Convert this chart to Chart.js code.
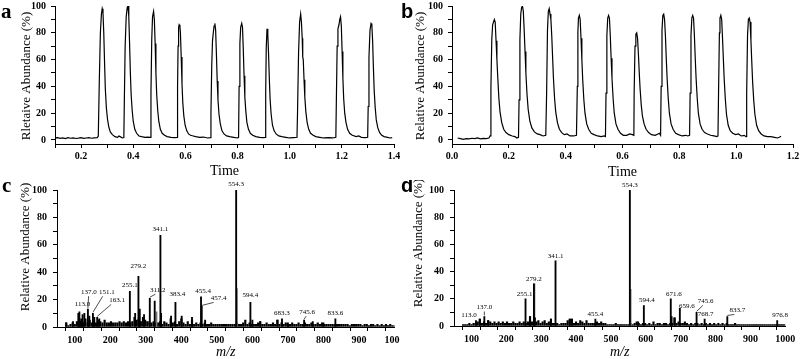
<!DOCTYPE html>
<html>
<head>
<meta charset="utf-8">
<script src="https://cdn.jsdelivr.net/npm/chart.js@4.4.1/dist/chart.umd.min.js"></script>
<style>
  html, body { margin: 0; padding: 0; background: #fff; }
  #fig { position: relative; width: 800px; height: 359px; overflow: hidden; background: #fff; }
  .panel { position: absolute; }
</style>
</head>
<body>
<div id="fig">
  <div class="panel" style="left:0;top:0;width:400px;height:180px"><canvas id="chart-a"></canvas></div>
  <div class="panel" style="left:400px;top:0;width:400px;height:180px"><canvas id="chart-b"></canvas></div>
  <div class="panel" style="left:0;top:180px;width:400px;height:179px"><canvas id="chart-c"></canvas></div>
  <div class="panel" style="left:400px;top:180px;width:400px;height:179px"><canvas id="chart-d"></canvas></div>
</div>
<script>
'use strict'

// panel a: chromatogram (time, relative abundance)
const aTime = [
  0.100, 0.110, 0.120, 0.130, 0.140, 0.150, 0.160, 0.170, 0.180, 0.190, 0.200, 0.210, 0.220, 0.230, 0.240, 0.250, 0.262, 0.266,
  0.270, 0.274, 0.278, 0.281, 0.284, 0.287, 0.290, 0.293, 0.297, 0.301, 0.306, 0.312, 0.320, 0.330, 0.340, 0.345, 0.350, 0.358, 0.364,
  0.366, 0.369, 0.373, 0.377, 0.380, 0.383, 0.386, 0.389, 0.392, 0.396, 0.400, 0.406, 0.413, 0.422, 0.432, 0.445, 0.455, 0.465,
  0.468, 0.471, 0.474, 0.478, 0.481, 0.484, 0.487, 0.490, 0.494, 0.498, 0.504, 0.511, 0.520, 0.530, 0.545, 0.558, 0.568,
  0.570, 0.572, 0.574, 0.576, 0.579, 0.581, 0.584, 0.587, 0.590, 0.594, 0.599, 0.605, 0.612, 0.620, 0.630, 0.640, 0.655, 0.670, 0.685, 0.696,
  0.698, 0.701, 0.704, 0.707, 0.710, 0.713, 0.716, 0.719, 0.722, 0.725, 0.729, 0.734, 0.740, 0.748, 0.758, 0.770, 0.785, 0.800, 0.804,
  0.806, 0.809, 0.812, 0.816, 0.819, 0.822, 0.825, 0.828, 0.832, 0.836, 0.842, 0.849, 0.858, 0.870, 0.885, 0.898, 0.906,
  0.908, 0.910, 0.913, 0.916, 0.919, 0.922, 0.925, 0.929, 0.934, 0.940, 0.948, 0.958, 0.970, 0.985, 1.000, 1.015, 1.028,
  1.030, 1.034, 1.038, 1.042, 1.045, 1.048, 1.050, 1.052, 1.055, 1.058, 1.062, 1.067, 1.073, 1.080, 1.090, 1.100, 1.115, 1.130, 1.150, 1.165, 1.177,
  1.179, 1.182, 1.185, 1.189, 1.192, 1.195, 1.198, 1.201, 1.204, 1.207, 1.211, 1.216, 1.222, 1.230, 1.240, 1.255, 1.265, 1.275, 1.290, 1.299,
  1.301, 1.304, 1.308, 1.312, 1.315, 1.318, 1.321, 1.324, 1.328, 1.332, 1.338, 1.345, 1.353, 1.362, 1.375, 1.385, 1.393
]
const aAbund = [
  1.5, 1.8, 1.2, 1.6, 1.0, 1.7, 1.3, 1.5, 1.1, 1.4, 1.8, 1.2, 1.5, 1.7, 1.3, 1.6, 1.8, 3,
  45, 80, 94, 98, 95, 80, 58, 38, 24, 16, 10, 6, 4, 2.5, 2, 3, 2.5, 1.5, 1.8,
  30, 70, 92, 99, 100, 92, 72, 50, 34, 22, 14, 8, 5, 3, 2.5, 2, 2.2, 2,
  35, 75, 92, 96, 90, 72, 50, 34, 22, 14, 8, 5, 3.5, 2.5, 2, 1.8, 2,
  40, 70, 84, 86, 85, 80, 62, 42, 28, 18, 11, 7, 4.5, 3.5, 3, 2.5, 2, 2.2, 1.5, 1.8,
  20, 55, 74, 80, 85, 87, 82, 64, 44, 30, 19, 12, 7, 4.5, 3, 2.5, 2, 1.5, 2,
  40, 72, 84, 87, 84, 68, 48, 32, 21, 13, 8, 5, 3.5, 2.5, 2, 1.8, 2,
  35, 68, 83, 79, 64, 45, 30, 19, 11, 7, 4.5, 3, 2.5, 2, 1.5, 1.8, 2,
  20, 65, 88, 94, 88, 76, 62, 60, 45, 32, 21, 13, 8, 5, 3.5, 2.5, 2, 1.5, 1.8, 1.5, 2,
  30, 70, 83, 86, 90, 92, 85, 66, 46, 31, 20, 13, 8, 5, 3.5, 2.5, 3, 2, 1.8, 2,
  25, 62, 82, 87, 86, 74, 54, 37, 24, 15, 9, 5.5, 3.5, 2.5, 2, 1.5, 1.8
]

// panel b: chromatogram
const bTime = [
  0.020, 0.030, 0.040, 0.050, 0.060, 0.070, 0.080, 0.090, 0.100, 0.110, 0.120, 0.130, 0.134,
  0.137, 0.140, 0.143, 0.146, 0.149, 0.152, 0.155, 0.158, 0.161, 0.165, 0.169, 0.175, 0.182, 0.190, 0.200, 0.212, 0.222, 0.228, 0.234,
  0.236, 0.239, 0.242, 0.245, 0.248, 0.251, 0.254, 0.257, 0.260, 0.264, 0.268, 0.274, 0.281, 0.290, 0.300, 0.310, 0.320, 0.330,
  0.333, 0.336, 0.339, 0.342, 0.345, 0.348, 0.351, 0.354, 0.357, 0.361, 0.365, 0.371, 0.378, 0.386, 0.395, 0.405, 0.415, 0.428, 0.438,
  0.441, 0.443, 0.445, 0.448, 0.451, 0.454, 0.457, 0.460, 0.464, 0.468, 0.474, 0.481, 0.490, 0.500, 0.512, 0.525, 0.535, 0.540,
  0.542, 0.545, 0.548, 0.551, 0.554, 0.557, 0.560, 0.563, 0.567, 0.571, 0.577, 0.584, 0.593, 0.603, 0.615, 0.625, 0.635, 0.640,
  0.641, 0.644, 0.647, 0.650, 0.653, 0.656, 0.659, 0.662, 0.666, 0.670, 0.676, 0.683, 0.692, 0.702, 0.715, 0.725, 0.730, 0.734,
  0.736, 0.739, 0.742, 0.745, 0.748, 0.751, 0.754, 0.757, 0.761, 0.765, 0.771, 0.778, 0.787, 0.797, 0.810, 0.822, 0.830, 0.836,
  0.838, 0.841, 0.844, 0.847, 0.850, 0.853, 0.856, 0.859, 0.863, 0.867, 0.873, 0.880, 0.889, 0.899, 0.910, 0.922, 0.932, 0.936,
  0.938, 0.941, 0.943, 0.946, 0.949, 0.952, 0.955, 0.958, 0.962, 0.966, 0.972, 0.979, 0.988, 0.998, 1.008, 1.018, 1.028, 1.035,
  1.037, 1.040, 1.043, 1.046, 1.049, 1.052, 1.055, 1.058, 1.062, 1.066, 1.072, 1.079, 1.088, 1.098, 1.110, 1.122, 1.135, 1.145, 1.152, 1.158
]
const bAbund = [
  1.5, 1.0, 0.5, 1.0, 0.8, 1.3, 1.0, 1.5, 0.8, 1.2, 1.0, 1.5, 3,
  40, 75, 86, 88, 90, 88, 74, 60, 47, 31, 21, 13, 8, 5.5, 4, 3, 2.5, 1.5, 2,
  30, 75, 94, 99, 100, 96, 82, 66, 50, 34, 23, 14, 9, 6, 4.5, 4, 3, 3.5,
  35, 82, 96, 98, 94, 90, 78, 62, 46, 31, 21, 13, 8, 5.5, 4, 4.5, 3, 3, 3.5,
  40, 80, 91, 93, 90, 76, 60, 45, 30, 20, 12, 8, 5, 4, 3, 2.5, 3, 2.5,
  35, 78, 91, 93, 91, 78, 61, 46, 31, 20, 12, 8, 5, 3.5, 3.5, 4.5, 4, 3.5,
  35, 70, 79, 80, 76, 64, 50, 38, 26, 18, 12, 8, 5.5, 4, 3.5, 4.5, 5, 3.5,
  40, 82, 93, 94, 90, 78, 61, 46, 31, 20, 12, 8, 5, 4, 3, 3.5, 3, 3.5,
  35, 78, 91, 93, 91, 78, 61, 46, 31, 20, 12, 8, 5.5, 4.5, 3.5, 3, 2.5, 3,
  35, 80, 91, 93, 90, 76, 60, 45, 30, 19, 11, 7, 5, 4, 4.5, 3, 3.5, 2.5,
  35, 78, 90, 91, 88, 74, 58, 43, 29, 19, 11, 7, 4.5, 3, 2.5, 2.5, 2, 1.5, 2, 2.8
]

// noise grid shared by both spectra (m/z)
const noiseMz = [
  76, 82, 88, 94, 100, 106, 112, 118, 124, 130, 136, 142, 148, 154, 160, 166, 172, 178, 184, 190,
  196, 202, 208, 214, 220, 226, 232, 238, 244, 250, 256, 262, 268, 274, 280, 286, 292, 298, 304, 310,
  316, 322, 328, 334, 340, 346, 352, 358, 364, 370, 376, 382, 388, 394, 400, 406, 412, 418, 424, 430,
  436, 442, 448, 454, 460, 466, 472, 478, 484, 490, 496, 502, 508, 514, 520, 526, 532, 538, 544, 550,
  556, 562, 568, 574, 580, 586, 592, 598, 604, 610, 616, 622, 628, 634, 640, 646, 652, 658, 664, 670,
  676, 682, 688, 694, 700, 706, 712, 718, 724, 730, 736, 742, 748, 754, 760, 766, 772, 778, 784, 790,
  796, 802, 808, 814, 820, 826, 832, 838, 844, 850, 856, 862, 868, 874, 880, 886, 892, 898, 904, 910,
  916, 922, 928, 934, 940, 946, 952, 958, 964, 970, 976, 982, 988, 994, 1000
]

// panel c: mass spectrum
const cNoise = [
  3, 1, 2, 3, 2, 4, 2, 4, 3, 6, 3, 5, 3, 4, 3, 5, 4, 3, 5, 3,
  3, 4, 3, 3, 3, 4, 3, 4, 3, 4, 3, 4, 7, 5, 6, 4, 7, 5, 4, 4,
  3, 4, 3, 3, 4, 2, 4, 3, 2, 6, 3, 4, 2, 4, 6, 3, 2, 4, 2, 5,
  2, 3, 2, 3, 2, 3, 2, 2, 3, 2, 2, 2, 2, 2, 2, 2, 2, 2, 2, 2,
  3, 2, 2, 3, 5, 2, 3, 2, 2, 2, 3, 4, 2, 2, 3, 2, 2, 3, 2, 5,
  2, 3, 2, 3, 2, 2, 3, 2, 2, 3, 2, 2, 3, 2, 2, 3, 2, 2, 3, 2,
  3, 2, 2, 2, 2, 2, 2, 2, 2, 2, 2, 2, 2, 1, 2, 2, 2, 2, 2, 1,
  2, 2, 1, 2, 2, 1, 2, 1, 2, 1, 2, 1, 2, 1, 1
]
const cPeakMz = [76, 95, 110, 113.0, 118, 122, 127, 137.0, 141, 151.1, 155, 163.1, 169, 255.1, 270, 279.2, 283, 295, 311.2, 325,
  341.1, 343, 371, 383.4, 401, 430, 455.4, 457.4, 467, 554.3, 594.4, 600, 622, 671, 683.3, 700, 745.6, 770, 800, 833.6]
const cPeakInt = [3, 4, 10, 11, 6, 9, 10, 13, 8, 10, 7, 7, 6, 26, 10, 37, 13, 9, 21, 19,
  67, 10, 8, 18, 8, 7, 22, 15, 5, 100, 18, 5, 4, 5, 6, 3, 5, 4, 3, 6]
const cPeakLabel = ['', '', '', '113.0', '', '', '', '137.0', '', '151.1', '', '163.1', '', '255.1', '', '279.2', '', '', '311.2', '',
  '341.1', '', '', '383.4', '', '', '455.4', '457.4', '', '554.3', '594.4', '', '', '', '683.3', '', '745.6', '', '', '833.6']
const cShoulderMz = [330, 556.3]
const cShoulderInt = [11, 28]

// panel d: mass spectrum
const dNoise = [
  1, 1, 1, 2, 1, 2, 2, 3, 5, 2, 3, 2, 4, 3, 2, 3, 2, 3, 2, 3,
  2, 3, 2, 2, 3, 2, 2, 3, 2, 3, 2, 3, 7, 3, 6, 3, 4, 2, 3, 4,
  2, 3, 5, 2, 2, 2, 1, 2, 2, 2, 4, 5, 5, 2, 3, 2, 4, 3, 2, 4,
  2, 2, 2, 2, 3, 2, 3, 2, 2, 1, 1, 1, 1, 2, 1, 1, 1, 1, 1, 1,
  2, 1, 2, 3, 2, 1, 2, 2, 1, 2, 1, 3, 1, 2, 2, 1, 2, 2, 1, 2,
  2, 6, 2, 3, 2, 2, 3, 2, 1, 2, 1, 2, 2, 1, 2, 1, 2, 1, 2, 1,
  2, 1, 2, 1, 2, 1, 2, 1, 1, 1, 2, 1, 1, 1, 1, 1, 1, 1, 1, 1,
  1, 1, 1, 1, 1, 1, 1, 1, 1, 1, 1, 1, 1, 1, 1
]
const dPeakMz = [113.0, 124, 137.0, 148, 255.1, 268, 279.2, 282, 328, 341.1, 382, 388, 455.4, 554.3, 578, 594.4,
  671.6, 674, 683, 697.6, 745.6, 768.7, 833.7, 976.8]
const dPeakInt = [4, 5, 7, 4, 20, 7, 31, 6, 5, 48, 5, 5, 5, 100, 3, 15,
  20, 7, 6, 13, 10, 5, 7, 4]
const dPeakLabel = ['113.0', '', '137.0', '', '255.1', '', '279.2', '', '', '341.1', '', '', '455.4', '554.3', '', '594.4',
  '671.6', '', '', '659.6', '745.6', '768.7', '833.7', '976.8']
const dShoulderMz = [280.5, 556.3]
const dShoulderInt = [31, 27]

// label placement: [dx, dy, leader line]
const cPlace = {
  '113.0': [3, -8, 0], '137.0': [1, -17, 1], '151.1': [14, -21, 1], '163.1': [20, -17, 1],
  '255.1': [0, -6, 0], '279.2': [0, -10, 0], '311.2': [8, -8, 1], '341.1': [0, -6, 0],
  '383.4': [2, -8, 0], '455.4': [2, -6, 0], '457.4': [17, -8, 1], '554.3': [0, -6, 0],
  '594.4': [0, -7, 0], '683.3': [0, -6, 0], '745.6': [3, -8, 1], '833.6': [0, -6, 0]
}
const dPlace = {
  '113.0': [-7, -5, 0], '137.0': [0, -9, 1], '255.1': [-1, -5, 0], '279.2': [0, -5, 0],
  '341.1': [0, -5, 0], '455.4': [0, -5, 0], '554.3': [0, -5, 0], '594.4': [3, -5, 0],
  '671.6': [3, -5, 0], '659.6': [7, -2, 0], '745.6': [9, -11, 1], '768.7': [1, -5, 0],
  '833.7': [10, -6, 1], '976.8': [3, -5, 0]
}

const SERIF = 'Liberation Serif'
const pairs = (xs, ys) => xs.map((v, i) => ({ x: v, y: ys[i] }))

// panel letter + rotated y title
const decor = (letter, letterFont, lx, ly, title, tx, ty) => ({
  id: 'decor',
  afterDraw (chart) {
    const ctx = chart.ctx
    ctx.save()
    ctx.fillStyle = '#000'
    ctx.font = letterFont
    ctx.textAlign = 'left'
    ctx.textBaseline = 'alphabetic'
    ctx.fillText(letter, lx, ly)
    ctx.translate(tx, ty)
    ctx.rotate(-Math.PI / 2)
    ctx.font = `13px "${SERIF}"`
    ctx.textAlign = 'center'
    ctx.textBaseline = 'middle'
    ctx.fillText(title, 0, 0)
    ctx.restore()
  }
})

const peakLabels = (mz, vals, labels, place) => ({
  id: 'peakLabels',
  afterDatasetsDraw (chart) {
    const { ctx, scales: { x, y } } = chart
    ctx.save()
    ctx.font = `7px "${SERIF}"`
    ctx.fillStyle = '#000'
    ctx.strokeStyle = '#000'
    ctx.lineWidth = 0.7
    ctx.textAlign = 'center'
    ctx.textBaseline = 'middle'
    mz.forEach((m, i) => {
      const text = labels[i]
      if (!text) return
      const [dx, dy, leader] = place[text] || [0, -5, 0]
      const px = x.getPixelForValue(m)
      const py = y.getPixelForValue(vals[i])
      const tx = px + dx
      const ty = py + dy
      ctx.fillText(text, tx, ty)
      if (leader) {
        ctx.beginPath()
        ctx.moveTo(tx - dx * 0.3, ty + 4)
        ctx.lineTo(px, py - 1)
        ctx.stroke()
      }
    })
    ctx.restore()
  }
})

function makeOptions (o) {
  return {
    responsive: true,
    maintainAspectRatio: false,
    animation: false,
    layout: { padding: { left: 0, top: o.top, right: o.right, bottom: 0 } },
    plugins: { legend: { display: false }, tooltip: { enabled: false } },
    scales: {
      x: {
        type: 'linear',
        min: o.xMin,
        max: o.xMax,
        offset: false,
        border: { color: '#000', width: 1 },
        grid: { drawOnChartArea: false, color: '#000', tickLength: 4 },
        ticks: {
          stepSize: o.xStep,
          autoSkip: false,
          maxRotation: 0,
          includeBounds: false,
          maxTicksLimit: 200,
          color: '#000',
          padding: o.xPad,
          font: { family: SERIF, size: 10, weight: 'bold' },
          callback: o.xFmt
        },
        title: {
          display: true,
          text: o.xTitle,
          color: '#000',
          font: { family: SERIF, size: 14, style: o.italic ? 'italic' : 'normal', lineHeight: 1 },
          padding: { top: 0, bottom: o.titlePad }
        },
        afterFit: (s) => { s.height = o.xAxisH; s.paddingLeft = 0; s.paddingRight = 0 }
      },
      y: {
        min: o.yMin,
        max: 100,
        border: { color: '#000', width: 1 },
        grid: { drawOnChartArea: false, color: '#000', tickLength: 4 },
        ticks: {
          stepSize: 10,
          includeBounds: false,
          autoSkip: false,
          color: '#000',
          padding: o.yPad,
          font: { family: SERIF, size: 10, weight: 'bold' },
          callback: (v) => (v % 20 === 0 ? String(v) : '')
        },
        afterFit: (s) => { s.width = o.yAxisW; s.paddingTop = 0; s.paddingBottom = 0 }
      }
    }
  }
}

const timeFmt = (v) => (Math.round(v * 10) % 2 === 0 ? v.toFixed(1) : '')
const mzFmt = (v) => (v % 100 === 0 ? String(v) : '')

const lineSet = (xs, ys) => ({
  data: pairs(xs, ys),
  borderColor: '#000',
  borderWidth: 1.2,
  pointRadius: 0,
  tension: 0,
  fill: false
})
const stickSet = (xs, ys, color, w) => ({
  type: 'bar',
  data: pairs(xs, ys),
  backgroundColor: color,
  borderWidth: 0,
  barThickness: w,
  grouped: false
})

new Chart(document.getElementById('chart-a'), {
  type: 'line',
  data: { datasets: [lineSet(aTime, aAbund)] },
  options: makeOptions({ top: 6, right: 6, xMin: 0.1, xMax: 1.4, xStep: 0.1, xFmt: timeFmt, xTitle: 'Time', titlePad: 2, xAxisH: 36, xPad: 2, yMin: -3, yAxisW: 55, yPad: 5 }),
  plugins: [decor('a', `bold 21px "${SERIF}"`, 1, 17.5, 'Rletaive Abundance (%)', 27, 76)]
})

new Chart(document.getElementById('chart-b'), {
  type: 'line',
  data: { datasets: [lineSet(bTime, bAbund)] },
  options: makeOptions({ top: 6, right: 7, xMin: 0, xMax: 1.2, xStep: 0.1, xFmt: timeFmt, xTitle: 'Time', titlePad: 1, xAxisH: 36, xPad: 2, yMin: -3, yAxisW: 52, yPad: 5 }),
  plugins: [decor('b', 'bold 20px "Liberation Sans"', 1, 18, 'Relative Abundance (%)', 21, 76)]
})

new Chart(document.getElementById('chart-c'), {
  type: 'bar',
  data: {
    datasets: [
      stickSet(cPeakMz, cPeakInt, '#000', 1.2),
      stickSet(cShoulderMz, cShoulderInt, '#777', 1.2),
      stickSet(noiseMz, cNoise, '#000', 1.5)
    ]
  },
  options: makeOptions({ top: 10, right: 5.5, xMin: 50, xMax: 1000, xStep: 50, xFmt: mzFmt, xTitle: 'm/z', italic: true, titlePad: 0, xAxisH: 32, xPad: 3, yMin: 0, yAxisW: 57, yPad: 6 }),
  plugins: [
    decor('c', `bold 21px "${SERIF}"`, 2, 12, 'Relative Abundance (%)', 26, 67),
    peakLabels(cPeakMz, cPeakInt, cPeakLabel, cPlace)
  ]
})

new Chart(document.getElementById('chart-d'), {
  type: 'bar',
  data: {
    datasets: [
      stickSet(dPeakMz, dPeakInt, '#000', 1.2),
      stickSet(dShoulderMz, dShoulderInt, '#777', 1.2),
      stickSet(noiseMz, dNoise, '#000', 1.5)
    ]
  },
  options: makeOptions({ top: 10, right: 14.7, xMin: 50, xMax: 1000, xStep: 50, xFmt: mzFmt, xTitle: 'm/z', italic: true, titlePad: 0, xAxisH: 33, xPad: 3, yMin: 0, yAxisW: 54, yPad: 6 }),
  plugins: [
    decor('d', 'bold 20px "Liberation Sans"', 1, 12, 'Relative Abundance (%)', 19, 63),
    peakLabels(dPeakMz, dPeakInt, dPeakLabel, dPlace)
  ]
})
</script>
</body>
</html>
